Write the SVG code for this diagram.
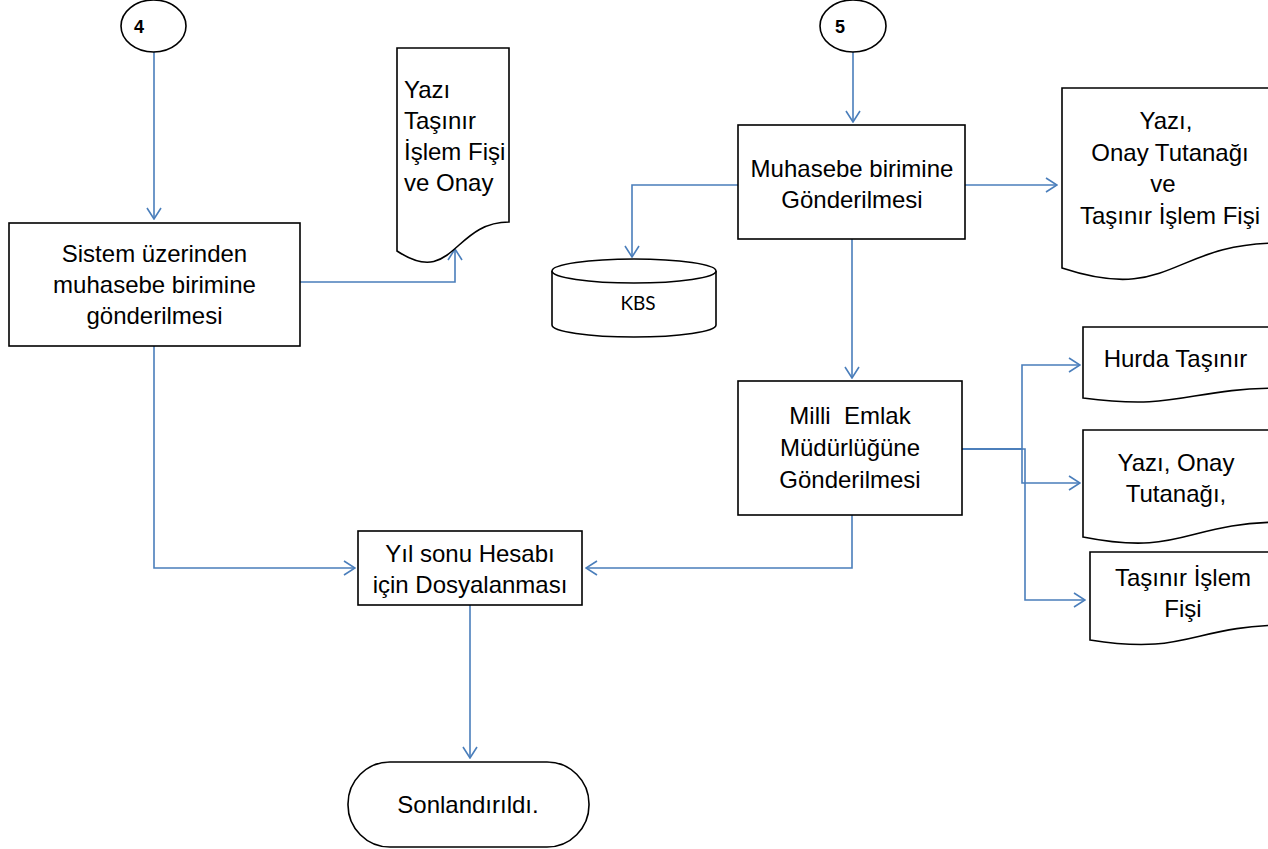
<svg xmlns="http://www.w3.org/2000/svg" width="1268" height="849" viewBox="0 0 1268 849">
<style>
.shape{fill:#fff;stroke:#000;stroke-width:1.6}
.t{font-family:"Liberation Sans",Arial,sans-serif;font-size:24px;fill:#000}
.c{text-anchor:middle}
.num{font-family:"Liberation Sans",Arial,sans-serif;font-size:18px;font-weight:bold;fill:#000}
.kbs{font-family:Lato,"Liberation Sans",sans-serif;font-size:19px;fill:#000;text-anchor:middle}
.conn{fill:none;stroke:#4A7EBB;stroke-width:1.6}
</style>
<defs>
<marker id="arr" viewBox="0 0 13 16" refX="12" refY="8" markerWidth="13" markerHeight="16" markerUnits="userSpaceOnUse" orient="auto">
<path d="M1,1 L12,8 L1,15" fill="none" stroke="#4A7EBB" stroke-width="1.6"/>
</marker>
</defs>
<rect width="1268" height="849" fill="#fff"/>
<g id="connectors">
<path class="conn" d="M154,52 V219" marker-end="url(#arr)"/>
<path class="conn" d="M300,282 H455 V249" marker-end="url(#arr)"/>
<path class="conn" d="M154,346 V568 H355" marker-end="url(#arr)"/>
<path class="conn" d="M853,52 V122" marker-end="url(#arr)"/>
<path class="conn" d="M738,185 H632 V257" marker-end="url(#arr)"/>
<path class="conn" d="M965,185 H1057" marker-end="url(#arr)"/>
<path class="conn" d="M852,239 V378" marker-end="url(#arr)"/>
<path class="conn" d="M852,515 V568 H586" marker-end="url(#arr)"/>
<path class="conn" d="M470,605 V758" marker-end="url(#arr)"/>
<path class="conn" d="M962,449 H1022 V365 H1080" marker-end="url(#arr)"/>
<path class="conn" d="M962,449 H1022 V483 H1080" marker-end="url(#arr)"/>
<path class="conn" d="M962,449 H1025 V600 H1085" marker-end="url(#arr)"/>
</g>
<g id="c4">
<ellipse class="shape" cx="153.5" cy="26" rx="32.5" ry="26"/>
<text class="num" x="134" y="33">4</text>
</g>
<g id="c5">
<ellipse class="shape" cx="853" cy="26" rx="33" ry="26"/>
<text class="num" x="835" y="33">5</text>
</g>
<g id="sistem">
<rect class="shape" x="9" y="223" width="291" height="123"/>
<text class="t c" x="154.5" y="262">Sistem üzerinden</text>
<text class="t c" x="154.5" y="293">muhasebe birimine</text>
<text class="t c" x="154.5" y="324">gönderilmesi</text>
</g>
<g id="doc1">
<path class="shape" d="M397,48 H509 V222 C453,222 453,288 397,251 Z"/>
<text class="t" x="404" y="98">Yazı</text>
<text class="t" x="404" y="129">Taşınır</text>
<text class="t" x="404" y="160">İşlem Fişi</text>
<text class="t" x="404" y="191">ve Onay</text>
</g>
<g id="muhasebe">
<rect class="shape" x="738" y="125" width="227" height="114"/>
<text class="t c" x="852" y="177">Muhasebe birimine</text>
<text class="t c" x="852" y="208">Gönderilmesi</text>
</g>
<g id="kbs">
<path class="shape" d="M552,271 V325 A82,12 0 0 0 716,325 V271"/>
<ellipse class="shape" cx="634" cy="271" rx="82" ry="12"/>
<text class="kbs" x="638" y="310">KBS</text>
</g>
<g id="doc2">
<path class="shape" d="M1062,88 H1280 V243 C1171,243 1171,304 1062,268 Z"/>
<text class="t c" x="1166" y="129">Yazı,</text>
<text class="t c" x="1170" y="161">Onay Tutanağı</text>
<text class="t c" x="1163" y="192">ve</text>
<text class="t c" x="1170" y="224">Taşınır İşlem Fişi</text>
</g>
<g id="milli">
<rect class="shape" x="738" y="381" width="224" height="134"/>
<text class="t c" x="850" y="424" xml:space="preserve">Milli  Emlak</text>
<text class="t c" x="850" y="456">Müdürlüğüne</text>
<text class="t c" x="850" y="488">Gönderilmesi</text>
</g>
<g id="doc3">
<path class="shape" d="M1083,327 H1285 V388 C1184,388 1184,411 1083,398 Z"/>
<text class="t c" x="1175.5" y="367">Hurda Taşınır</text>
</g>
<g id="doc4">
<path class="shape" d="M1083,430 H1285 V522 C1184,522 1184,557 1083,537 Z"/>
<text class="t c" x="1176" y="471">Yazı, Onay</text>
<text class="t c" x="1176" y="502">Tutanağı,</text>
</g>
<g id="doc5">
<path class="shape" d="M1090,552 H1290 V625 C1190,625 1190,656 1090,640 Z"/>
<text class="t c" x="1183" y="586">Taşınır İşlem</text>
<text class="t c" x="1183" y="617">Fişi</text>
</g>
<g id="yilsonu">
<rect class="shape" x="358" y="531" width="224" height="74"/>
<text class="t c" x="470" y="562">Yıl sonu Hesabı</text>
<text class="t c" x="470" y="593">için Dosyalanması</text>
</g>
<g id="son">
<rect class="shape" x="348" y="762" width="241" height="85" rx="42" ry="42"/>
<text class="t c" x="468" y="813">Sonlandırıldı.</text>
</g>
</svg>
